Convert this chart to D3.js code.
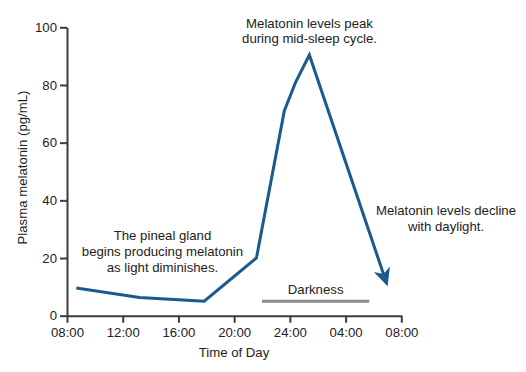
<!DOCTYPE html>
<html>
<head>
<meta charset="utf-8">
<script src="https://cdn.jsdelivr.net/npm/d3@7"></script>
<style>
  html, body { margin: 0; padding: 0; background: #fff; }
  svg { display: block; font-family: "Liberation Sans", Arial, Helvetica, sans-serif; }
  .axis path, .axis line { stroke: #3c3c3c; stroke-width: 2; }
  .axis text { font-size: 13.2px; fill: #222; font-family: "Liberation Sans", Arial, sans-serif; }
  .note { font-size: 13.2px; fill: #222; }
</style>
</head>
<body>
<svg id="chart" width="526" height="372"></svg>
<script>
// ---- data ----
const hours = [8.67, 13.2, 17.85, 21.6, 23.6, 24.4, 25.4, 30.95];
const melatonin = [9.6, 6.3, 5.0, 20.0, 71, 80.8, 90.4, 11.2];
const xTickHours = [8, 12, 16, 20, 24, 28, 32];
const xTickLabels = ["08:00", "12:00", "16:00", "20:00", "24:00", "04:00", "08:00"];
const yTicks = [0, 20, 40, 60, 80, 100];
const darknessHours = [22.0, 29.7];
const darknessLevel = 5.0;
const darknessLabel = "Darkness";
const notePeak = ["Melatonin levels peak", "during mid-sleep cycle."];
const noteStart = ["The pineal gland", "begins producing melatonin", "as light diminishes."];
const noteDecline = ["Melatonin levels decline", "with daylight."];
const xTitle = "Time of Day";
const yTitle = "Plasma melatonin (pg/mL)";

// ---- scales ----
const svg = d3.select("#chart");
const x = d3.scaleLinear().domain([8, 32]).range([67, 401.3]);
const y = d3.scaleLinear().domain([0, 100]).range([315.7, 27.3]);

// ---- axes ----
svg.append("g").attr("class", "axis")
  .attr("transform", `translate(0,${y(0)})`)
  .call(d3.axisBottom(x).tickValues(xTickHours)
    .tickFormat((d, i) => xTickLabels[i]).tickSize(7).tickSizeOuter(0).tickPadding(5));

svg.append("g").attr("class", "axis")
  .attr("transform", `translate(${x(8)},0)`)
  .call(d3.axisLeft(y).tickValues(yTicks).tickSize(7).tickSizeOuter(0).tickPadding(3));

// axis titles
svg.append("text").attr("class", "note")
  .attr("x", 234).attr("y", 357).attr("text-anchor", "middle").text(xTitle);
svg.append("text").attr("class", "note")
  .attr("transform", `translate(26.5,167.5) rotate(-90)`)
  .attr("text-anchor", "middle").text(yTitle);

// ---- darkness bar ----
svg.append("line")
  .attr("x1", x(darknessHours[0])).attr("x2", x(darknessHours[1]))
  .attr("y1", y(darknessLevel)).attr("y2", y(darknessLevel))
  .attr("stroke", "#8c8c8c").attr("stroke-width", 3);
svg.append("text").attr("class", "note")
  .attr("x", (x(darknessHours[0]) + x(darknessHours[1])) / 2)
  .attr("y", y(darknessLevel) - 7.5).attr("text-anchor", "middle").text(darknessLabel);

// ---- arrow marker ----
const lineColor = "#1b5a8f";
svg.append("defs").append("marker")
  .attr("id", "arrow")
  .attr("markerUnits", "userSpaceOnUse")
  .attr("viewBox", "-20 -10 24 20")
  .attr("refX", -3).attr("refY", 0)
  .attr("markerWidth", 24).attr("markerHeight", 20)
  .attr("orient", "auto")
  .append("path")
  .attr("d", "M0,0 L-18,-8.5 L-13,0 L-18,8.5 Z")
  .attr("fill", lineColor);

// ---- line ----
const pts = hours.map((h, i) => [h, melatonin[i]]);
svg.append("path")
  .datum(pts)
  .attr("fill", "none")
  .attr("stroke", lineColor)
  .attr("stroke-width", 3)
  .attr("stroke-linejoin", "miter")
  .attr("marker-end", "url(#arrow)")
  .attr("d", d3.line().x(d => x(d[0])).y(d => y(d[1])));

// ---- annotations ----
function note(lines, cx, y0, dy) {
  const t = svg.append("text").attr("class", "note").attr("text-anchor", "middle");
  lines.forEach((s, i) => t.append("tspan").attr("x", cx).attr("y", y0 + i * dy).text(s));
}
note(notePeak, 309.5, 27.5, 15.5);
note(noteStart, 162.5, 240, 15.8);
note(noteDecline, 446, 215.3, 16);
</script>
</body>
</html>
